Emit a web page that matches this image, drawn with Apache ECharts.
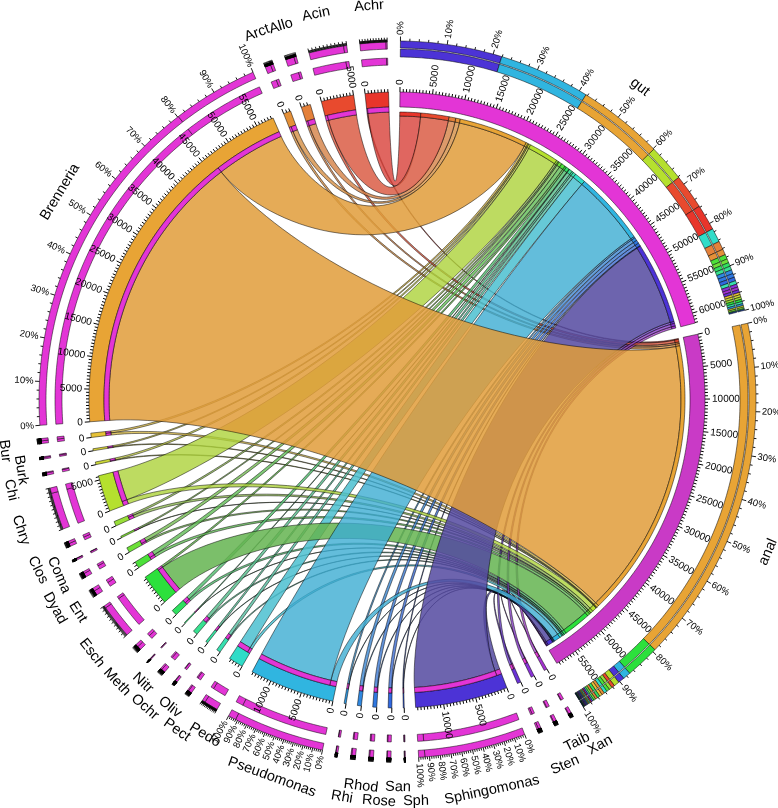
<!DOCTYPE html>
<html><head><meta charset="utf-8"><style>html,body{margin:0;padding:0;background:#fff}#c{width:778px;height:808px}</style>
<script src="https://cdn.jsdelivr.net/npm/echarts@6/dist/echarts.min.js"></script></head><body><div id="c"></div>
<script>
// genus names (alphabetical: order of chords along the mother sectors)
const genera = ['Achr','Acin','Allo','Arct','Brenneria','Bur','Burk','Chi','Chry','Coma','Clos','Dyad','Ent','Esch','Meth','Nitr','Ochr','Oliv','Pect','Pedo','Pseudomonas','Rhi','Rhod','Rose','San','Sph','Sphingomonas','Sten','Taib','Xan'];
const gutValues  = [3450,4640,1130,770,11430,310,210,310,4940,310,210,515,620,310,515,115,515,290,465,1855,12150,260,515,515,485,115,13490,360,410,380];
const analValues = [155,410,310,360,46350,360,105,105,720,410,50,260,410,4530,360,40,205,70,155,410,1030,50,105,105,80,40,825,205,105,80];
const mothers = ['gut','anal'];
const genusColors = ['#E8352B','#E84A2E','#E4813A','#E49038','#E8A435','#E6C238','#D8D23A','#CCD83A','#B5E02E','#98DE38','#80E038','#6CE038','#4CE03A','#2CE03C','#30E060','#34E078','#38E090','#38E0A0','#38E0B0','#30DCC8','#30B5E0','#3098E0','#3088E0','#3078E0','#3068E0','#3058E0','#4C33D6','#6A33D6','#8A33D6','#A433D0'];
const motherColors = {gut:'#E335D6', anal:'#C93AC6'};
const partColor = '#E335D6';
const percentLabelled = ['gut','anal','Brenneria','Pseudomonas','Sphingomonas'];
const chordOverride = {Sphingomonas:'rgba(83,73,160,0.85)',Pedo:'rgba(75,192,208,0.85)',Esch:'rgba(100,180,80,0.85)',Brenneria:'rgba(224,156,58,0.85)'};

// layout (not data)
const C = {x:397,y:400}, GAP = 2.12, START = 0.55, CREST = 0.3;
const R = {pct1:[359,352],pct2:[351,343],g1:[358,351],g2:[342,335],ring:[308,293],strip:[293,288],mStrip:[288,284],link:288,mLink:284};
const FONT='"Liberation Sans",Arial,sans-serif';
const namePos = {gut:[640,87],anal:[768,552],Brenneria:[60,192],Achr:[369,6],Acin:[316,14],Allo:[281,26],Arct:[257,33],Bur:[5,451],Burk:[21,470],Chi:[11,490],Chry:[21,530],Coma:[59,575],Clos:[38,570],Dyad:[55,608],Ent:[78,612],Esch:[92,653],Meth:[117,682],Nitr:[143,683],Ochr:[145,707],Oliv:[170,707],Pect:[177,730],Pedo:[205,735],Pseudomonas:[272,777],Rhi:[342,797],Rhod:[361,786],Rose:[379,801],San:[398,787],Sph:[416,801],Sphingomonas:[492,790],Sten:[565,765],Taib:[577,742],Xan:[600,745]};

// derived sector layout
const genTotals = genera.map((g,i)=>gutValues[i]+analValues[i]);
const sum = a=>a.reduce((p,c)=>p+c,0);
const motherTotals = {gut:sum(gutValues),anal:sum(analValues)};
const order = ['gut','anal',...genera.slice().reverse()];
const totalOf = n=>motherTotals[n]!==undefined?motherTotals[n]:genTotals[genera.indexOf(n)];
const K = (360-order.length*GAP)/order.reduce((p,n)=>p+totalOf(n),0);
const sectors = {}; let cur = START;
order.forEach(n=>{const t=totalOf(n); sectors[n]={name:n,total:t,a0:cur,a1:cur+t*K}; cur+=t*K+GAP;});
const colorOf = n=>{const i=genera.indexOf(n);return i>=0?genusColors[i]:motherColors[n];};

// links
const links=[]; const mPtr={gut:sectors.gut.a0,anal:sectors.anal.a0};
genera.forEach((g,i)=>{
  let p=sectors[g].a0;
  [['anal',analValues[i]],['gut',gutValues[i]]].forEach(([m,v])=>{
    const l={g,m,v,s0:p,s1:p+v*K,m0:mPtr[m],m1:mPtr[m]+v*K,color:genusColors[i]};
    p=l.s1; mPtr[m]=l.m1; links.push(l);
  });
});
links.sort((a,b)=>a.v-b.v);
// % stacks
function stack(n){
  let parts;
  if(motherTotals[n]!==undefined){
    const vals=n==='gut'?gutValues:analValues;
    parts=genera.map((g,i)=>({v:vals[i],c:genusColors[i]}));
  } else {const i=genera.indexOf(n);parts=[{v:gutValues[i],c:partColor},{v:analValues[i],c:partColor}];}
  return parts.sort((a,b)=>b.v-a.v);
}
function chordFill(l){ if(chordOverride[l.g])return chordOverride[l.g];
  const i=genera.indexOf(l.g), f=(i>=9&&i<=18)?0.62:0.85;
  const n=parseInt(l.color.slice(1),16);const c=[n>>16,(n>>8)&255,n&255].map(x=>Math.round(x*f+128*(1-f)));return 'rgba('+c.join(',')+',0.8)';}

function arcPts(api,r,a0,a1,out){const n=Math.max(2,Math.ceil(Math.abs(a1-a0)/0.6));for(let i=0;i<=n;i++){out.push(api.coord([r,a0+(a1-a0)*i/n]));}return out;}
function band(api,r0,r1,a0,a1,fill,sw){const pts=[];arcPts(api,r0,a0,a1,pts);arcPts(api,r1,a1,a0,pts);
  return {type:'polygon',shape:{points:pts},style:{fill,stroke:'#000',lineWidth:sw===undefined?0.6:sw}};}
function curve(api,ra,a,rb,b,out){
  const d=((b-a)%360+540)%360-180, mid=a+d/2, diff=Math.abs(d);
  const cr=160*(1-diff/180);
  const ctrl=[api.coord([ra,a]),api.coord([ra-CREST*(ra-cr),a]),api.coord([cr,mid]),api.coord([rb-CREST*(rb-cr),b]),api.coord([rb,b])];
  for(let i=1;i<48;i++){const t=i/48,u=1-t;const w=[u*u*u*u,4*u*u*u*t,6*u*u*t*t,4*u*t*t*t,t*t*t*t];
    out.push([0,1].map(k=>w.reduce((s,wi,j)=>s+wi*ctrl[j][k],0)));}
}
function renderLink(params,api){
  const l=links[api.value(2)];const pts=[];
  arcPts(api,R.link,l.s0,l.s1,pts);curve(api,R.link,l.s1,R.mLink,l.m0,pts);
  arcPts(api,R.mLink,l.m0,l.m1,pts);curve(api,R.mLink,l.m1,R.link,l.s0,pts);
  return {type:'polygon',shape:{points:pts},style:{fill:chordFill(l),stroke:'rgba(0,0,0,0.7)',lineWidth:0.7}};
}
function renderRing(params,api){
  const s=sectors[order[api.value(2)]],ch=[];const isM=motherTotals[s.name]!==undefined;
  const st=stack(s.name);
  const tr=isM?[R.pct1,R.pct2]:[R.g1,R.g2];
  tr.forEach(rr=>{let p=s.a0;st.forEach(q=>{const w=q.v*K;if(w>0)ch.push(band(api,rr[0],rr[1],p,p+w,q.c,0.5));p+=w;});});
  ch.push(band(api,R.ring[0],R.ring[1],s.a0,s.a1,colorOf(s.name),0.5));
  links.forEach(l=>{
    if(isM&&l.m===s.name)ch.push(band(api,R.mStrip[0],R.mStrip[1],l.m0,l.m1,l.color,0.5));
    if(!isM&&l.g===s.name)ch.push(band(api,R.strip[0],R.strip[1],l.s0,l.s1,partColor,0.5));
  });
  return {type:'group',children:ch};
}
function tick(api,r,a,len,w){const p=api.coord([r,a]),q=api.coord([r+len,a]);
  return {type:'line',shape:{x1:p[0],y1:p[1],x2:q[0],y2:q[1]},style:{stroke:'#000',lineWidth:w||0.8}};}
function radial(api,r,a,text,size){
  const p=api.coord([r,a]);const right=a%360<180;
  const rot=right?-(a-90):-(a-270);
  return {type:'text',x:p[0],y:p[1],rotation:rot*Math.PI/180,style:{text,font:size+'px '+FONT,fill:'#000',align:right?'left':'right',verticalAlign:'middle'}};
}
function renderTicks(params,api){
  const s=sectors[order[api.value(2)]],ch=[];const isM=motherTotals[s.name]!==undefined;
  const rTop=isM?R.pct1[0]:R.g1[0];
  const span=s.a1-s.a0;
  for(let p=0;p<=100;p+=2){const a=s.a0+span*p/100,maj=p%10===0;ch.push(tick(api,rTop,a,maj?4.5:2.5,0.9));
    if(maj&&percentLabelled.includes(s.name))ch.push(radial(api,rTop+6,a,p+'%',9.5));}
  for(let v=0;v<=s.total;v+=500){const a=s.a0+v*K,maj=v%5000===0;
    if(s.total>=1000||v===0)ch.push(tick(api,R.ring[0],a,maj?5:3,1));
    if(maj)ch.push(radial(api,R.ring[0]+7,a,String(v),10));}
  return {type:'group',children:ch};
}
function renderName(params,api){
  const s=sectors[order[api.value(2)]],pos=namePos[s.name],m=(s.a0+s.a1)/2;
  const rot=(m>90&&m<270)?-(m-180):-m;
  return {type:'text',x:pos[0],y:pos[1],rotation:rot*Math.PI/180,style:{text:s.name,font:'14.5px '+FONT,fill:'#000',align:'center',verticalAlign:'middle'}};
}
const linkData=links.map((l,i)=>[R.link,l.s0,i]);
const secData=order.map((n,i)=>[R.ring[0],sectors[n].a0,i]);
const base={type:'custom',coordinateSystem:'polar',silent:true,animation:false,encode:{radius:0,angle:1},clip:false};
const chart=echarts.init(document.getElementById('c'),null,{renderer:'canvas'});
chart.setOption({
  animation:false,backgroundColor:'#fff',
  polar:{center:[C.x,C.y],radius:400},
  angleAxis:{type:'value',min:0,max:360,startAngle:90,clockwise:true,show:false},
  radiusAxis:{type:'value',min:0,max:400,show:false},
  series:[
    Object.assign({},base,{renderItem:renderLink,data:linkData,z:1}),
    Object.assign({},base,{renderItem:renderRing,data:secData,z:2}),
    Object.assign({},base,{renderItem:renderTicks,data:secData,z:3}),
    Object.assign({},base,{renderItem:renderName,data:secData,z:4})
  ]
});
</script></body></html>
